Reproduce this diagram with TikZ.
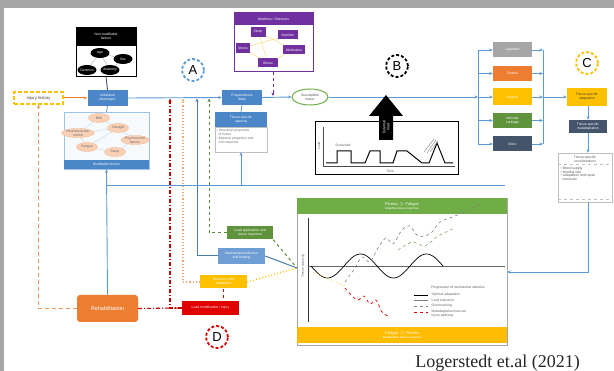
\documentclass[tikz,border=0pt]{standalone}
\usepackage{fontspec}
\setmainfont{Liberation Serif}
\newfontfamily\lab{Liberation Sans}
\usetikzlibrary{arrows.meta,shapes.geometric,calc}
\definecolor{lineblue}{HTML}{5B9BD5}
\definecolor{boxblue}{HTML}{4A86C8}
\definecolor{purp}{HTML}{7030A0}
\definecolor{gold}{HTML}{FFC000}
\definecolor{orng}{HTML}{ED7D31}
\definecolor{grn}{HTML}{70AD47}
\definecolor{navy}{HTML}{44546A}
\definecolor{redd}{HTML}{E00000}
\definecolor{darkred}{HTML}{C00000}
\definecolor{frame}{HTML}{A6A6A6}
\begin{document}
\begin{tikzpicture}[x=1pt,y=-1pt,
  lbl/.style={font=\lab\fontsize{3.4}{3.9}\selectfont, align=center, inner sep=0.5pt},
  wl/.style={lbl, text=white},
  solidbox/.style={wl, fill=#1, draw=none, minimum height=15pt, inner sep=0pt},
  blk/.style={ellipse, fill=black, wl, minimum width=19pt, minimum height=10pt, inner sep=0pt},
  oel/.style={ellipse, fill=orng!35, draw=orng!55, lbl, text=black!60, minimum width=21pt, minimum height=9pt, inner sep=0pt},
  pbx/.style={wl, fill=purp, minimum height=9pt, inner sep=0pt},
  bl/.style={draw=lineblue, line width=0.9pt},
  arr/.style={-{Stealth[length=3.5pt,width=3pt]}},
  mark circle/.style={circle, dashed, dash pattern=on 3pt off 2pt, line width=1.8pt, minimum size=22pt, inner sep=0pt, font=\lab\fontsize{13}{13}\selectfont}
]
\fill[frame] (0,0) rectangle (614,371);
\fill[white] (4,8) rectangle (614,371);
\useasboundingbox (0,0) rectangle (614,371);

% ---------- non-modifiable factors
\node[draw=black, line width=0.8pt, minimum width=60pt, minimum height=49pt, inner sep=0pt] (nm) at (106,51.5) {};
\fill[black] (76,27) rectangle (136,46);
\node[wl] (nmt) at (106,36.5) {Non-modifiable\\factors};
\node[blk] (e1) at (100,53) {Age};
\node[blk] (e2) at (123,59) {Sex};
\node[blk] (e3) at (87,70) {Genetics};
\node[blk] (e4) at (110,70) {Anatomy};
\draw[gray!60, thin] (e1)--(e2) (e1)--(e3) (e1)--(e4) (e2)--(e4) (e3)--(e4);

% ---------- injury history and phenotype
\node[lbl, text=black!75, draw=gold, dashed, dash pattern=on 4pt off 2pt, line width=1.1pt, minimum width=49pt, minimum height=12pt, font=\lab\fontsize{4.2}{5}\selectfont] (inj) at (38.5,98) {Injury history};
\node[solidbox=boxblue, minimum width=40pt, minimum height=16pt] (phe) at (107.5,98) {Individual\\phenotype};
\draw[orng, line width=1pt, arr] (inj.east) -- (phe.west);
\draw[navy, line width=0.9pt] (nm.south) -- (phe.north);

% ---------- modifiable factors
\node[draw=lineblue!60, fill=lineblue!5, minimum width=85pt, minimum height=57pt, inner sep=0pt] (mod) at (106.5,140.5) {};
\node[solidbox=boxblue, minimum width=85pt, minimum height=9pt] (modt) at (106.5,164.5) {Modifiable factors};
\draw[lineblue, line width=0.8pt] (phe.south) -- (mod.north);
\node[oel] (o1) at (99,118) {BMI};
\node[oel] (o2) at (118,128) {Strength};
\node[oel] (o3) at (78,133) {Neuromuscular\\control};
\node[oel] (o4) at (135,140) {Psychosocial\\factors};
\node[oel] (o5) at (87,147) {Fatigue};
\node[oel] (o6) at (115,152) {Sleep};
\draw[lineblue!40, thin] (o1)--(o2) (o1)--(o3) (o2)--(o4) (o3)--(o5) (o5)--(o6) (o6)--(o4) (o2)--(o5) (o3)--(o2);

% ---------- purple modifiers
\node[draw=purp, line width=1pt, minimum width=79pt, minimum height=59pt, inner sep=0pt] (pur) at (273.5,42.5) {};
\node[pbx, minimum width=79pt, minimum height=12pt] (purt) at (273.5,19) {Modifiers / Stressors};
\node[pbx, minimum width=15pt, minimum height=10pt] (p1) at (258,32) {Sleep};
\node[pbx, minimum width=20pt] (p2) at (288,35) {Nutrition};
\node[pbx, minimum width=14pt, minimum height=10pt] (p3) at (243,48) {Stress};
\node[pbx, minimum width=22pt] (p4) at (294,50) {Medication};
\node[pbx, minimum width=20pt] (p5) at (268,63) {Illness};
\draw[gold!60, thin] (p1)--(p4) (p2)--(p3) (p3)--(p5) (p5)--(p4) (p1)--(p5);

% ---------- preparedness, capacity, susceptible tissue
\node[solidbox=boxblue, minimum width=40pt] (prep) at (242,97.5) {Preparedness\\State};
\node[solidbox=boxblue, minimum width=52pt] (cap) at (241,119.5) {Tissue-specific\\capacity};
\node[draw=gray!50, minimum width=52pt, minimum height=25pt, inner sep=0pt] (capl) at (241,139.5) {};
\node[lbl, text=black!55, align=left, anchor=north west] at (216,128.5) {\textbullet\ Structural properties\\ \ \ of tissue\\ \textbullet\ Material properties and\\ \ \ cell response};
\draw[lineblue, line width=0.8pt] (prep.south) -- (cap.north);
\node[ellipse, draw=grn, line width=1pt, fill=white, minimum width=36pt, minimum height=16pt, lbl, text=black!70] (ell) at (310,97) {Susceptible\\tissue};

% ---------- main line
\coordinate (brL) at (478,97);
\draw[bl, arr] (phe.east) -- (prep.west);
\draw[bl, arr] (prep.east) -- (ell.west);
\draw[bl, arr] (ell.east) -- (brL);
\draw[purp, line width=1pt, dashed, arr] (pur.south -| 273,0) -- (273,96);

% ---------- marks
\node[mark circle, draw=lineblue] (cA) at (193,70) {A};
\node[mark circle, draw=black] (cB) at (397,66) {B};
\node[mark circle, draw=gold] (cC) at (587,63) {C};
\node[mark circle, draw=redd] (cD) at (217,337) {D};

% ---------- box B with external load arrow
\node[draw=black, line width=1pt, minimum width=143pt, minimum height=53pt, inner sep=0pt] (bbox) at (386.5,148.5) {};
\draw[black!70, line width=0.5pt] (323,127) -- (323,166) -- (455,166);
\draw[black, line width=1pt] (326,163) -- (337,163) -- (337,151) -- (351,151) -- (351,163) -- (365,163) -- (370,151) -- (380,151) -- (380,163) -- (393,163) -- (397,151) -- (407,151) -- (422,163) -- (429,163) -- (437,143) -- (445,163) -- (453,163);
\draw[gray, thin] (424,152) -- (434,139) (427,153) -- (436,140) (430,152) -- (438,141);
\node[lbl, text=black!60] at (343,145.5) {Sustained};
\node[lbl, text=black!60] at (390,171) {Time};
\node[lbl, text=black!60, rotate=90] at (319,146) {Load};
\fill[black] (386,95) -- (403,116) -- (393,116) -- (393,140) -- (379,140) -- (379,116) -- (369,116) -- cycle;
\node[wl, rotate=90, font=\lab\fontsize{3.6}{4}\selectfont] at (386,127) {External\\load};

% ---------- tissues
\node[solidbox=gray!70, minimum width=39pt] (t1) at (512.5,50) {Ligament};
\node[solidbox=orng, minimum width=39pt] (t2) at (512.5,73.5) {Tendon};
\node[solidbox=gold, minimum width=39pt, minimum height=17pt] (t3) at (512.5,97) {Muscle};
\node[solidbox=grn!85!black, minimum width=39pt] (t4) at (512.5,120.5) {Articular\\cartilage};
\node[solidbox=navy, minimum width=39pt] (t5) at (512.5,144) {Bone};
\draw[bl] (478,50) -- (478,144);
\draw[bl] (543,50) -- (543,144);
\foreach \t in {t1,t2,t3,t4,t5}{
  \draw[bl, arr] (\t.west -| 478,0) -- (\t.west);
  \draw[bl, arr] (\t.east) -- (\t.east -| 543,0);
}
\node[solidbox=gold, minimum width=40pt, minimum height=18pt, text=black!75] (ada) at (587,97) {Tissue-specific\\adaptation};
\node[solidbox=navy, minimum width=38pt, minimum height=13pt] (mal) at (588,126.5) {Tissue-specific\\maladaptation};
\node[draw=gray!50, minimum width=54pt, minimum height=49pt, inner sep=0pt] (con) at (585,177.5) {};
\node[lbl, text=black!65] at (585,159) {Tissue-specific\\considerations};
\draw[gray!50, dashed, thin] (558,164) -- (612,164);
\node[lbl, text=black!65, align=left, anchor=north west] at (560,166) {\textbullet\ Blood supply\\ \textbullet\ Healing rate\\ \textbullet\ Adaptation and repair\\ \ \ timescale};
\draw[gray!50, dashed, thin] (558,199) -- (612,199);
\draw[bl, arr] (543,97) -- (ada.west);
\draw[bl, arr] (ada.south -| mal.north) -- (mal.north);
\draw[bl, arr] (mal.south) -- (mal.south |- con.north);

% ---------- chart
\node[draw=gray!70, minimum width=210pt, minimum height=147pt, inner sep=0pt] (cha) at (402,271.5) {};
\node[solidbox=grn, minimum width=210pt, minimum height=16pt, font=\lab\fontsize{4}{4.6}\selectfont] (chg) at (402,206) {Fitness $>$ Fatigue\\[-0.3pt]{\fontsize{3}{3.4}\selectfont Adaptive tissue response}};
\node[solidbox=gold!95!orng, minimum width=210pt, minimum height=16pt, font=\lab\fontsize{4}{4.6}\selectfont] (cho) at (402,335) {Fatigue $>$ Fitness\\[-0.3pt]{\fontsize{3}{3.4}\selectfont Maladaptive tissue response}};
\draw[black!80, line width=0.6pt] (308,218) -- (308,322);
\draw[black!60, line width=0.5pt] (308,266) -- (505,266);
\node[lbl, text=black!60, rotate=90] at (303,266) {Tissue capacity};
\draw[black, line width=0.7pt] plot[domain=311:443, samples=90, smooth] (\x,{266+12*sin((\x-311)*5.4545)});
\draw[gray, dashed, line width=0.6pt] plot[smooth] coordinates {(345,282) (355,268) (362,257) (370,262) (378,248) (386,238) (393,244) (402,230) (410,226) (418,236) (430,234) (440,222) (455,216) (468,210) (480,204)};
\draw[grn!70!gray, dashed, line width=0.5pt] plot[smooth] coordinates {(398,250) (412,242) (425,246) (438,236) (455,228)};
\draw[gold!70, dotted, line width=0.8pt] (313,272) -- (345,286);
\draw[redd, dashed, line width=0.7pt] plot[smooth] coordinates {(345,288) (352,296) (358,300) (364,296) (370,304) (376,300) (382,312) (388,316)};
\node[lbl, text=black!65] at (458,288) {Progression of mechanical stimulus};
\draw[black, line width=0.5pt] (414,295) -- (428,295);
\node[lbl, text=black!60, anchor=west] at (431,295) {Optimal adaptation};
\draw[gray, line width=0.5pt] (414,300.5) -- (428,300.5);
\node[lbl, text=black!60, anchor=west] at (431,300.5) {Load tolerance};
\draw[gray, dashed, line width=0.5pt] (414,306) -- (428,306);
\node[lbl, text=black!60, anchor=west] at (431,306) {Overreaching};
\draw[redd, dashed, line width=0.8pt] (414,312) -- (428,312);
\node[lbl, text=black!60, anchor=west, align=left] at (431,314) {Maladaptation/overuse\\injury pathway};
\coordinate (cL) at (297,268);

% ---------- feedback boxes
\node[solidbox=grn!85!black, minimum width=46pt, minimum height=13pt] (gbx) at (250,233) {Load application and\\tissue response};
\node[solidbox=boxblue!80, minimum width=47pt, minimum height=16pt] (mec) at (241.5,256) {Mechanotransduction\\and healing};
\node[solidbox=gold, minimum width=47pt, minimum height=13pt] (ybx) at (223.5,282) {Recovery and\\adaptation};
\node[solidbox=redd, minimum width=57pt, minimum height=14pt] (rbx) at (210.5,308) {Load modification / injury};
\node[solidbox=orng, rounded corners=3pt, minimum width=61pt, minimum height=27pt, font=\lab\fontsize{5.5}{6}\selectfont] (reh) at (107.5,308.5) {Rehabilitation};

\draw[grn!80!black, dashed, line width=1pt, arr] (gbx.west) -| (209,98.5);
\draw[grn!80!black, dashed, line width=1pt] (gbx.south east) -- (cL);
\draw[lineblue!80!black, line width=1pt, arr] (mec.west) -| (197,98.5);
\draw[lineblue!80!black, line width=1pt] (mec.east) -- (cL);
\draw[orng!70, dotted, line width=1.1pt, arr] (ybx.west) -| (183,98.5);
\draw[gold, dotted, line width=1.1pt] (ybx.east) -- (cL);
\draw[redd, dashed, line width=1.2pt] (ybx.south) -- (ybx.south |- rbx.north);
\draw[darkred, dash pattern=on 4pt off 2pt on 1pt off 2pt, line width=1.1pt, arr] (rbx.west) -| (170,98.5);
\draw[darkred, dash pattern=on 4pt off 2pt on 1pt off 2pt, line width=1.1pt] (reh.east) -- (rbx.west);
\draw[orng!80, dashed, dash pattern=on 4pt off 3pt, line width=1.1pt, arr] (reh.west) -| (inj.south);
\draw[bl, arr] (reh.north) -- (modt.south);
\draw[bl] (107,185) -- (505,185);
\draw[bl, arr] (capl.south |- 0,185) -- (capl.south);
\draw[bl, arr] (con.south -| 588,0) -- (588,272) -- (cha.east |- 0,272);

\node[font=\fontsize{18}{20}\selectfont, text=black!85, anchor=base] (cite) at (497.5,368) {Logerstedt et.al (2021)};
\end{tikzpicture}
\end{document}
